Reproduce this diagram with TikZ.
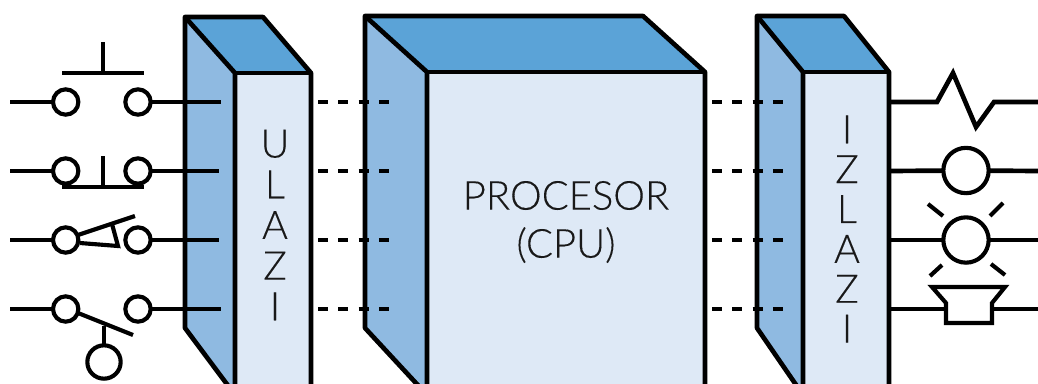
\documentclass[tikz,border=0pt]{standalone}
\usepackage{fontspec}
\setmainfont{Lato Light}[FakeBold=0.25]
\definecolor{topc}{HTML}{5BA3D7}
\definecolor{sidec}{HTML}{8FBAE1}
\definecolor{frontc}{HTML}{DEE9F6}
\tikzset{
  ln/.style={draw=black,line width=3.5pt,line join=round},
  thin ln/.style={draw=black,line width=3.1pt,line join=miter},
  dash ln/.style={draw=black,line width=3.5pt,dash pattern=on 7.6pt off 7.6pt},
  term/.style={circle,draw=black,line width=3.1pt,minimum size=19pt,inner sep=0pt,outer sep=0pt},
  lamp/.style={circle,draw=black,line width=3.1pt,minimum size=34pt,inner sep=0pt,outer sep=0pt},
  relay/.style={circle,draw=black,line width=3.1pt,minimum size=25pt,inner sep=0pt,outer sep=0pt},
  lbl/.style={inner sep=0pt,align=center,text=black!90}
}
\begin{document}
\begin{tikzpicture}[x=0.75pt,y=-0.75pt]
\useasboundingbox (0,0) rectangle (1038,383);
\begin{scope}
\clip (0,0) rectangle (1038,383);
% left box
\fill[topc] (185,17)--(263,17)--(311,73)--(235,73)--cycle;
\fill[sidec] (185,17)--(235,73)--(235,395)--(185,328)--cycle;
\fill[frontc] (235,73) rectangle (311,395);
\draw[ln] (235,395)--(185,328)--(185,17)--(263,17)--(311,73)--(311,395);
\draw[ln] (185,17)--(235,73)--(235,395);
\draw[ln] (235,73)--(311,73);
% middle box
\fill[topc] (365,16)--(643,16)--(705,72)--(427,72)--cycle;
\fill[sidec] (365,16)--(427,72)--(427,395)--(365,328)--cycle;
\fill[frontc] (427,72) rectangle (705,395);
\draw[ln] (427,395)--(365,328)--(365,16)--(643,16)--(705,72)--(705,395);
\draw[ln] (365,16)--(427,72)--(427,395);
\draw[ln] (427,72)--(705,72);
% right box
\fill[topc] (757,16)--(844,16)--(889,72)--(803,72)--cycle;
\fill[sidec] (757,16)--(803,72)--(803,395)--(757,328)--cycle;
\fill[frontc] (803,72) rectangle (889,395);
\draw[ln] (803,395)--(757,328)--(757,16)--(844,16)--(889,72)--(889,395);
\draw[ln] (757,16)--(803,72)--(803,395);
\draw[ln] (803,72)--(889,72);
\end{scope}
% labels
\node[lbl,font=\fontsize{29.5}{30.5}\selectfont] (ulazi) at (275,225) {U\\L\\A\\Z\\I};
\node[lbl,font=\fontsize{29.5}{29.9}\selectfont] (izlazi) at (847,229) {I\\Z\\L\\A\\Z\\I};
\node[lbl,font=\fontsize{30}{36}\selectfont] (cpu) at (566,222) {PROCESOR\\(CPU)};
% input terminals
\foreach \r/\y in {1/102,2/171,3/240,4/309}{
  \node[term] (a\r) at (65.7,\y) {};
  \node[term] (b\r) at (138,\y) {};
  \coordinate (w\r) at (10,\y);
  \coordinate (d\r) at (318,\y);
  \coordinate (e\r) at (390,\y);
  \coordinate (f\r) at (712,\y);
  \coordinate (g\r) at (784,\y);
  \coordinate (o\r) at (889,\y);
  \coordinate (t\r) at (1038,\y);
  \draw[ln] (w\r)--(a\r);
  \draw[dash ln] (d\r)--(e\r);
  \draw[dash ln] (f\r)--(g\r);
}
\coordinate (i1) at (220.5,102);
\coordinate (i2) at (219,171);
\coordinate (i3) at (219,240);
\coordinate (i4) at (220.5,309);
\foreach \r in {1,2,3,4}{\draw[ln] (b\r)--(i\r);}
% push buttons
\draw[thin ln] (62,73)--(144,73);
\draw[thin ln] (103,42)--(103,73);
\draw[thin ln] (62,187)--(144,187);
\draw[thin ln] (103,156)--(103,187);
% pressure / triangle switch
\draw[thin ln] (78,235)--(135,216);
\draw[thin ln,line join=miter] (112,224)--(118,246)--(80,243);
% relay switch
\node[relay] (coil) at (104,362) {};
\coordinate (s4) at (104,326);
\draw[thin ln] (78,313)--(133,335);
\draw[thin ln] (s4)--(coil);
% outputs
\draw[ln,line join=miter] (o1)--(937,102)--(953,73)--(976,127)--(994,102)--(t1);
\node[lamp] (l2) at (966,170.5) {};
\node[lamp] (l3) at (966,240) {};
\draw[ln] (o2)--(l2);
\draw[ln] (l2)--(t2);
\draw[ln] (o3)--(l3);
\draw[ln] (l3)--(t3);
\draw[thin ln] (928,204)--(943,216);
\draw[thin ln] (1003,203)--(990,216);
\draw[thin ln] (942,265)--(930,276);
\draw[thin ln] (991,264)--(1005,275);
\coordinate (h1) at (946,309);
\coordinate (h2) at (992,309);
\draw[ln] (o4)--(h1);
\draw[ln] (h2)--(t4);
\draw[thin ln,line join=miter] (932,287)--(1005,287)--(992,303)--(992,323)--(946,323)--(946,303)--cycle;
\end{tikzpicture}
\end{document}
